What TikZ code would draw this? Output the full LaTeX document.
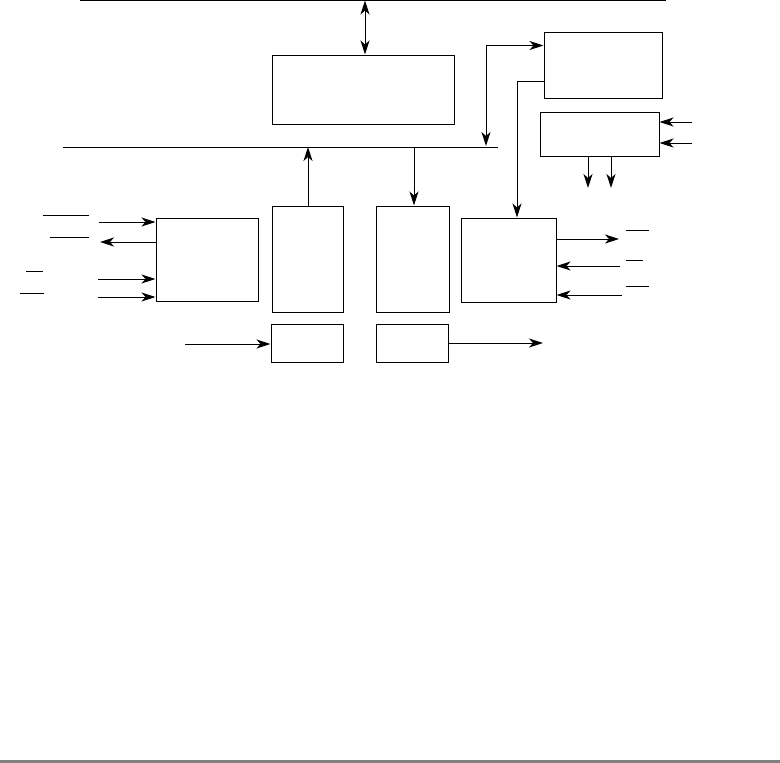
\documentclass[tikz,border=0pt]{standalone}
\usetikzlibrary{arrows.meta,calc}
\begin{document}
\begin{tikzpicture}[x=1pt,y=-1pt,
  blk/.style={draw,line width=1pt,inner sep=0pt,minimum width=#1},
  ln/.style={line width=1pt},
  arr/.style={line width=1pt,-{Stealth[length=14pt,width=9pt,inset=4pt]}},
  darr/.style={line width=1pt,{Stealth[length=14pt,width=9pt,inset=4pt]}-{Stealth[length=14pt,width=9pt,inset=4pt]}},
  bar/.style={line width=1pt}]
\useasboundingbox (0,0) rectangle (780,763);
% bottom gray bar
\fill[gray] (0,760) rectangle (780,763);
% buses
\coordinate (topL) at (80,0.5);
\coordinate (topR) at (666,0.5);
\draw[ln] (topL) -- (topR);
\coordinate (busL) at (63,147);
\coordinate (busR) at (498,147);
\draw[ln] (busL) -- (busR);
% blocks
\node[blk=182pt,minimum height=69pt] (mem) at (363,89.5) {};
\node[blk=118pt,minimum height=66pt] (B) at (603,65) {};
\node[blk=119pt,minimum height=44pt] (D) at (599.5,134) {};
\node[blk=102pt,minimum height=83pt] (E) at (207,259.5) {};
\node[blk=71pt,minimum height=106pt] (P1) at (307.5,259) {};
\node[blk=73pt,minimum height=106pt] (P2) at (412.5,259) {};
\node[blk=95pt,minimum height=84pt] (C) at (508.5,260) {};
\node[blk=72pt,minimum height=38pt] (S1) at (307,343) {};
\node[blk=72pt,minimum height=38pt] (S2) at (412,343) {};
% memory to top bus
\draw[darr] ([xshift=2pt]mem.north |- topL) -- ([xshift=2pt]mem.north);
% P1 up to bus, bus down to P2
\draw[arr] ([xshift=0.5pt]P1.north) -- ([xshift=0.5pt]P1.north |- busL);
\draw[arr] ([xshift=1.5pt]P2.north |- busL) -- ([xshift=1.5pt]P2.north);
% bus <-> B
\coordinate (bB) at (486,146);
\draw[darr] (bB) |- ($(B.north west)+(0,14)$);
% B -> C
\draw[arr] ($(B.north west)+(0,50)$) -| ([xshift=8.5pt]C.north);
% D inputs / outputs
\coordinate (dI1) at (692,122);
\coordinate (dI2) at (692,143);
\draw[arr] (dI1) -- (dI1 -| D.east);
\draw[arr] (dI2) -- (dI2 -| D.east);
\coordinate (dO1) at (588,188);
\coordinate (dO2) at (611,188);
\draw[arr] (dO1 |- D.south) -- (dO1);
\draw[arr] (dO2 |- D.south) -- (dO2);
% C outputs / inputs
\coordinate (cO) at (619,239);
\coordinate (cI1) at (620,266);
\coordinate (cI2) at (622,295);
\draw[arr] (cO -| C.east) -- (cO);
\draw[arr] (cI1) -- (cI1 -| C.east);
\draw[arr] (cI2) -- (cI2 -| C.east);
\draw[bar] (626,230) -- (649,230);
\draw[bar] (626,260) -- (643,260);
\draw[bar] (626,286) -- (649,286);
% E inputs / outputs
\coordinate (eI1) at (99,222);
\coordinate (eO) at (100,242);
\coordinate (eI2) at (98,279);
\coordinate (eI3) at (98,297);
\draw[arr] (eI1) -- (eI1 -| E.west);
\draw[arr] (eO -| E.west) -- (eO);
\draw[arr] (eI2) -- (eI2 -| E.west);
\draw[arr] (eI3) -- (eI3 -| E.west);
\draw[bar] (43,215) -- (89,215);
\draw[bar] (50,237) -- (89,237);
\draw[bar] (26,271) -- (43,271);
\draw[bar] (20,293) -- (44,293);
% S1 in, S2 out
\coordinate (sI) at (185,344);
\coordinate (sO) at (543,343);
\draw[arr] (sI) -- (sI -| S1.west);
\draw[arr] (sO -| S2.east) -- (sO);
\end{tikzpicture}
\end{document}
